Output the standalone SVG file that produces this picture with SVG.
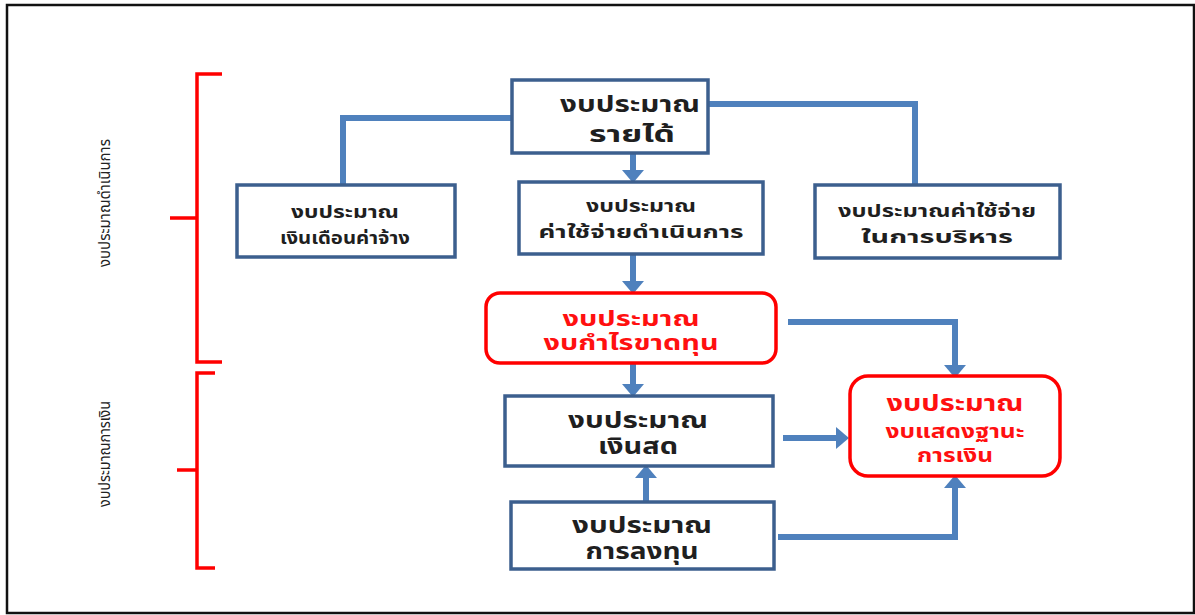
<svg xmlns="http://www.w3.org/2000/svg" width="1195" height="615" viewBox="0 0 1195 615">
<defs>
<style>
.box{fill:#fff;stroke:#3c5f8e;stroke-width:3.5}
.rbox{fill:#fff;stroke:#ff0000;stroke-width:3.5}
.t{font-family:"Noto Sans Thai","Tahoma","Noto Sans",sans-serif;font-weight:bold;fill:#1f1f1f;text-anchor:middle}
.r{fill:#ff1010}
.big{font-size:23px}
.sm{font-size:18px}
.vt{font-family:"Noto Sans Thai","Tahoma","Noto Sans",sans-serif;font-size:15px;fill:#222;text-anchor:middle}
.c{fill:none;stroke:#4f81bd;stroke-width:6}
.br{fill:none;stroke:#ff0000;stroke-width:3.5}
</style>
<marker id="ah" markerUnits="userSpaceOnUse" markerWidth="14" markerHeight="22" refX="0" refY="11" orient="auto">
<path d="M0,0 L13,11 L0,22 z" fill="#4f81bd"/>
</marker>
</defs>
<rect x="7" y="5" width="1187" height="608" fill="#fff" stroke="#111" stroke-width="2.5"/>

<g id="brackets">
<path class="br" d="M222,74 H197 V362 H222 M197,218 H170"/>
<path class="br" d="M215,373 H197 V568 H215 M197,470 H177"/>
<text class="vt" transform="translate(110,203) rotate(-90)" textLength="128" lengthAdjust="spacingAndGlyphs">งบประมาณดำเนินการ</text>
<text class="vt" transform="translate(110,454) rotate(-90)" textLength="106" lengthAdjust="spacingAndGlyphs">งบประมาณการเงิน</text>
</g>

<g id="connectors">
<polyline class="c" points="512,118 343,118 343,185"/>
<polyline class="c" points="708,104 915,104 915,185"/>
<polyline class="c" points="633,153 633,170" marker-end="url(#ah)"/>
<polyline class="c" points="633,254 633,281" marker-end="url(#ah)"/>
<polyline class="c" points="788,322 955,322 955,365" marker-end="url(#ah)"/>
<polyline class="c" points="633,363 633,384" marker-end="url(#ah)"/>
<polyline class="c" points="783,438 836,438" marker-end="url(#ah)"/>
<polyline class="c" points="646,502 646,478" marker-end="url(#ah)"/>
<polyline class="c" points="778,537 955,537 955,488" marker-end="url(#ah)"/>
</g>

<g id="revenue">
<rect class="box" x="512" y="80" width="196" height="73"/>
<text class="t big" x="630" y="112" textLength="140" lengthAdjust="spacingAndGlyphs">งบประมาณ</text>
<text class="t big" x="632" y="142" textLength="86" lengthAdjust="spacingAndGlyphs">รายได้</text>
</g>
<g id="salary">
<rect class="box" x="237" y="185" width="218" height="72"/>
<text class="t sm" x="345" y="218" textLength="108" lengthAdjust="spacingAndGlyphs">งบประมาณ</text>
<text class="t sm" x="345" y="244" textLength="130" lengthAdjust="spacingAndGlyphs">เงินเดือนค่าจ้าง</text>
</g>
<g id="operating">
<rect class="box" x="519" y="182" width="244" height="72"/>
<text class="t sm" x="641" y="212" textLength="110" lengthAdjust="spacingAndGlyphs">งบประมาณ</text>
<text class="t sm" x="641" y="238" textLength="205" lengthAdjust="spacingAndGlyphs">ค่าใช้จ่ายดำเนินการ</text>
</g>
<g id="admin">
<rect class="box" x="815" y="185" width="245" height="73"/>
<text class="t sm" x="937" y="217" textLength="198" lengthAdjust="spacingAndGlyphs">งบประมาณค่าใช้จ่าย</text>
<text class="t sm" x="937" y="243" textLength="152" lengthAdjust="spacingAndGlyphs">ในการบริหาร</text>
</g>
<g id="profit">
<rect class="rbox" x="486" y="293" width="290" height="70" rx="14"/>
<text class="t r" x="631" y="326" style="font-size:22px" textLength="137" lengthAdjust="spacingAndGlyphs">งบประมาณ</text>
<text class="t r" x="631" y="350" style="font-size:22px" textLength="175" lengthAdjust="spacingAndGlyphs">งบกำไรขาดทุน</text>
</g>
<g id="cash">
<rect class="box" x="505" y="396" width="268" height="70"/>
<text class="t big" x="638" y="428" textLength="140" lengthAdjust="spacingAndGlyphs">งบประมาณ</text>
<text class="t big" x="638" y="454" textLength="80" lengthAdjust="spacingAndGlyphs">เงินสด</text>
</g>
<g id="balance">
<rect class="rbox" x="850" y="376" width="210" height="100" rx="18"/>
<text class="t big r" x="955" y="411" textLength="137" lengthAdjust="spacingAndGlyphs">งบประมาณ</text>
<text class="t r" x="955" y="438" style="font-size:20px" textLength="139" lengthAdjust="spacingAndGlyphs">งบแสดงฐานะ</text>
<text class="t r" x="955" y="462" style="font-size:20px" textLength="76" lengthAdjust="spacingAndGlyphs">การเงิน</text>
</g>
<g id="investment">
<rect class="box" x="511" y="502" width="263" height="67"/>
<text class="t big" x="642" y="533" textLength="140" lengthAdjust="spacingAndGlyphs">งบประมาณ</text>
<text class="t big" x="642" y="559" textLength="113" lengthAdjust="spacingAndGlyphs">การลงทุน</text>
</g>
</svg>
